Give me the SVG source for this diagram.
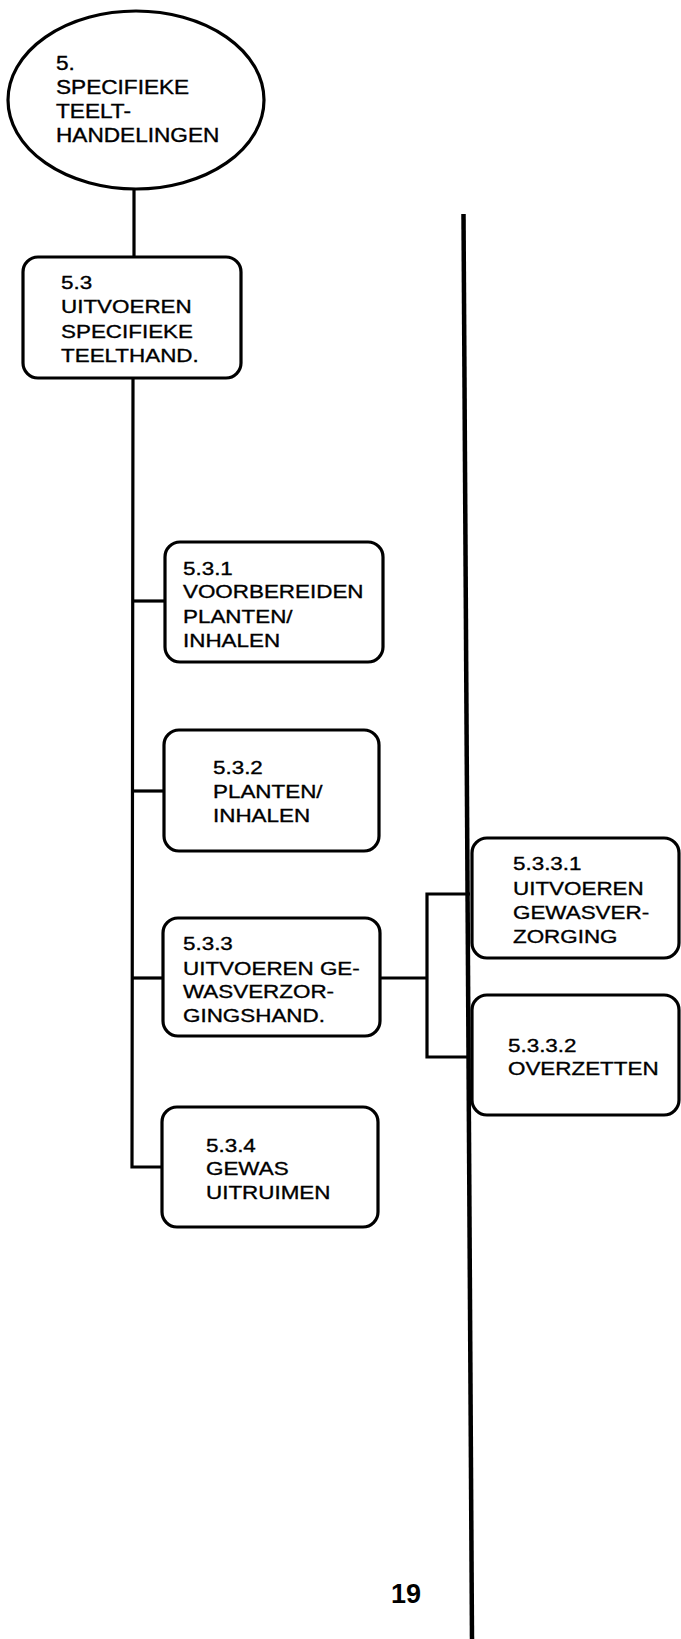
<svg xmlns="http://www.w3.org/2000/svg" width="681" height="1639" viewBox="0 0 681 1639">
<style>
.n{fill:#fff;stroke:#000;stroke-width:3.2}
.c{fill:none;stroke:#000;stroke-width:3.2}
text{font-family:"Liberation Sans",Arial,sans-serif;font-size:19px;fill:#000;stroke:#000;stroke-width:0.35}
.e text{font-size:19.5px}
.pg{font-size:27px;font-weight:bold;stroke-width:0}
</style>
<rect width="681" height="1639" fill="#fff"/>
<g id="connectors">
<line class="c" x1="134" y1="189" x2="134" y2="257"/>
<polyline class="c" points="133,378 132,1167 162,1167"/>
<line class="c" x1="133" y1="601" x2="165" y2="601"/>
<line class="c" x1="133" y1="791" x2="164" y2="791"/>
<line class="c" x1="132" y1="978" x2="163" y2="978"/>
<line class="c" x1="380" y1="978" x2="427" y2="978"/>
<polyline class="c" points="470,894 427,894 427,1057 470,1057"/>
<line x1="463.5" y1="214" x2="472" y2="1639" stroke="#000" stroke-width="4.5"/>
</g>
<g id="n5">
<ellipse class="n" cx="136" cy="100" rx="128" ry="89"/>
<g class="e" transform="translate(56,0) scale(1.16,1)">
<text x="0" y="70">5.</text>
<text x="0" y="94">SPECIFIEKE</text>
<text x="0" y="118">TEELT-</text>
<text x="0" y="142">HANDELINGEN</text>
</g>
</g>
<g id="n53">
<rect class="n" x="23" y="257" width="218" height="121" rx="15"/>
<g transform="translate(61,0) scale(1.18,1)">
<text x="0" y="289">5.3</text>
<text x="0" y="313">UITVOEREN</text>
<text x="0" y="338">SPECIFIEKE</text>
<text x="0" y="362">TEELTHAND.</text>
</g>
</g>
<g id="n531">
<rect class="n" x="165" y="542" width="218" height="120" rx="15"/>
<g transform="translate(183,0) scale(1.18,1)">
<text x="0" y="575">5.3.1</text>
<text x="0" y="598">VOORBEREIDEN</text>
<text x="0" y="623">PLANTEN/</text>
<text x="0" y="647">INHALEN</text>
</g>
</g>
<g id="n532">
<rect class="n" x="164" y="730" width="215" height="121" rx="15"/>
<g transform="translate(213,0) scale(1.18,1)">
<text x="0" y="774">5.3.2</text>
<text x="0" y="798">PLANTEN/</text>
<text x="0" y="822">INHALEN</text>
</g>
</g>
<g id="n533">
<rect class="n" x="163" y="918" width="217" height="118" rx="15"/>
<g transform="translate(183,0) scale(1.18,1)">
<text x="0" y="950">5.3.3</text>
<text x="0" y="975">UITVOEREN GE-</text>
<text x="0" y="998">WASVERZOR-</text>
<text x="0" y="1022">GINGSHAND.</text>
</g>
</g>
<g id="n5331">
<rect class="n" x="472" y="838" width="207" height="120" rx="15"/>
<g transform="translate(513,0) scale(1.18,1)">
<text x="0" y="870">5.3.3.1</text>
<text x="0" y="895">UITVOEREN</text>
<text x="0" y="919">GEWASVER-</text>
<text x="0" y="943">ZORGING</text>
</g>
</g>
<g id="n5332">
<rect class="n" x="472" y="995" width="207" height="120" rx="15"/>
<g transform="translate(508,0) scale(1.18,1)">
<text x="0" y="1052">5.3.3.2</text>
<text x="0" y="1075">OVERZETTEN</text>
</g>
</g>
<g id="n534">
<rect class="n" x="162" y="1107" width="216" height="120" rx="15"/>
<g transform="translate(206,0) scale(1.18,1)">
<text x="0" y="1152">5.3.4</text>
<text x="0" y="1175">GEWAS</text>
<text x="0" y="1199">UITRUIMEN</text>
</g>
</g>
<text class="pg" x="391" y="1603">19</text>
</svg>
